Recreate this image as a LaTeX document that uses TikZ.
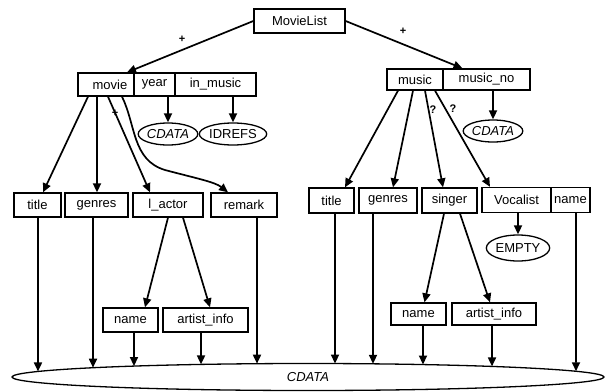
\documentclass[tikz,border=0pt]{standalone}
\usepackage{fontspec}
\setmainfont{Liberation Sans}
\usetikzlibrary{arrows.meta,shapes.geometric,intersections}
\begin{document}
\begin{tikzpicture}[x=1pt,y=-1pt,
  every node/.style={font=\fontsize{13}{15}\selectfont, inner sep=0pt},
  box/.style={draw, line width=1.3pt, rectangle, minimum height=#1},
  box/.default=24pt,
  val/.style={draw, line width=1.3pt, ellipse},
  arr/.style={line width=1.7pt, -{Triangle[length=9pt,width=8pt]}},
  lbl/.style={font=\bfseries\fontsize{11}{13}\selectfont}
]
\useasboundingbox (0,0) rectangle (605,391);

% root
\node[box, minimum width=91pt] (ml) at (299.5,21) {MovieList};

% movie element with its attributes
\node[box=23pt, minimum width=56pt] (movie) at (106,84.5) {\hspace*{8pt}movie};
\node[box=23pt, minimum width=41pt] (year) at (154.5,84.5) {year};
\node[box=23pt, minimum width=81pt] (inmusic) at (215.5,84.5) {in\_music};

% music element with its attribute
\node[box=21pt, minimum width=56pt] (music) at (415,79.5) {music};
\node[box=21pt, minimum width=87pt] (musicno) at (486.5,79.5) {music\_no};

% attribute types
\node[val, minimum width=54pt, minimum height=22pt] (cdyear) at (168,134) {\itshape CDATA};
\node[val, minimum width=56pt, minimum height=22pt] (idrefs) at (233,134) {IDREFS};
\node[val, minimum width=52pt, minimum height=22pt] (cdmno) at (493,131) {\itshape CDATA};

% children of movie
\node[box, minimum width=47pt] (ltitle) at (37.5,205) {title};
\node[box, minimum width=63pt] (lgenres) at (96.5,205) {genres};
\node[box, minimum width=70pt] (lactor) at (168,205) {l\_actor};
\node[box, minimum width=66pt] (remark) at (244,205) {remark};

% children of l_actor
\node[box, minimum width=55pt] (lname) at (130.5,320) {name};
\node[box, minimum width=85pt] (lartist) at (205.5,320) {artist\_info};

% children of music
\node[box=25pt, minimum width=45pt] (rtitle) at (331.5,200.5) {title};
\node[box=25pt, minimum width=58pt] (rgenres) at (388,200.5) {genres};
\node[box=25pt, minimum width=55pt] (singer) at (449.5,200.5) {singer};
\node[box=25pt, minimum width=69pt] (vocalist) at (516.5,200) {Vocalist};
\node[box=25pt, minimum width=39pt] (vname) at (570.5,200) {name};

\node[val, minimum width=50pt, minimum height=26pt] (empty) at (518,248) {EMPTY};

% children of singer
\node[box=22pt, minimum width=55pt] (rname) at (418.5,314) {name};
\node[box=22pt, minimum width=84pt] (rartist) at (494,314) {artist\_info};

% shared character data
\node[val, minimum width=592pt, minimum height=27pt] (cdall) at (308,377) {\itshape CDATA};
\path[name path=big] (cdall.center) ellipse [x radius=296pt, y radius=13.5pt];

% root to its children
\draw[arr] (ml.west) -- ([xshift=21pt]movie.north);
\draw[arr] (ml.east) -- ([xshift=-24pt]musicno.north);
\node[lbl] at (182,39) {+};
\node[lbl] at (403,31) {+};

% attribute types
\draw[arr] (year.south -| cdyear.north) -- (cdyear.north);
\draw[arr] (inmusic.south -| idrefs.north) -- (idrefs.north);
\draw[arr] (musicno.south -| cdmno.north) -- (cdmno.north);
\draw[arr] (vocalist.south -| empty.north) -- (empty.north);

% movie to its children
\draw[arr] ([xshift=-18pt]movie.south) -- ([xshift=5.5pt]ltitle.north);
\draw[arr] ([xshift=-9pt]movie.south) -- ([xshift=0.5pt]lgenres.north);
\draw[arr] ([xshift=2pt]movie.south) -- ([xshift=-18pt]lactor.north);
\node[lbl] at (115,113) {+};
\draw[arr] ([xshift=16pt]movie.south) .. controls (136,125) and (132,160) .. (165,170)
  .. controls (195,178) and (215,182) .. ([xshift=-16pt]remark.north);

% l_actor to its children
\draw[arr] (lactor.south) -- ([xshift=14.5pt]lname.north);
\draw[arr] ([xshift=15pt]lactor.south) -- ([xshift=4.5pt]lartist.north);

% music to its children
\draw[arr] ([xshift=-17pt]music.south) -- ([xshift=13.5pt]rtitle.north);
\draw[arr] ([xshift=-2pt]music.south) -- ([xshift=5pt]rgenres.north);
\draw[arr] ([xshift=10pt]music.south) -- ([xshift=-6.5pt]singer.north);
\draw[arr] ([xshift=20pt]music.south) -- ([xshift=-26.5pt]vocalist.north);
\node[lbl] at (433,110) {?};
\node[lbl] at (453,109) {?};

% singer to its children
\draw[arr] ([xshift=-5.5pt]singer.south) -- ([xshift=6pt]rname.north);
\draw[arr] ([xshift=10.5pt]singer.south) -- ([xshift=-4pt]rartist.north);

% leaves down to the shared CDATA
\foreach \n/\dx in {ltitle/0.5, lgenres/-3.5, lname/3.5, lartist/-4.5, remark/13,
                    rtitle/3.5, rgenres/-15, rname/4.5, rartist/-2, vname/5.5} {
  \path[name path=drop] ([xshift=\dx pt]\n.south) -- ++(0,250);
  \draw[arr, name intersections={of=drop and big, by=hit}]
    ([xshift=\dx pt]\n.south) -- (hit);
}
\end{tikzpicture}
\end{document}
